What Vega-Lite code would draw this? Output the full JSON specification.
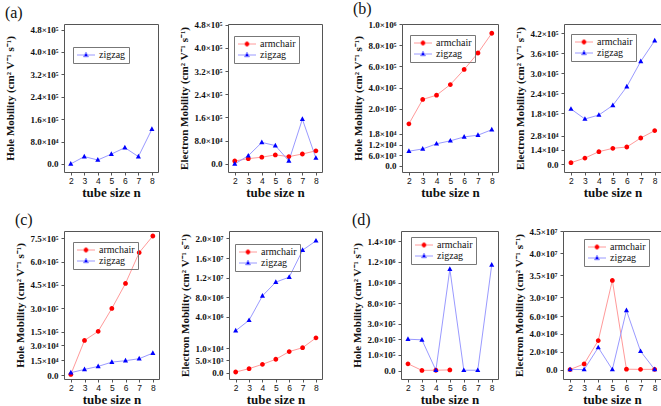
{
  "$schema": "https://vega.github.io/schema/vega-lite/v6.json",
  "padding": {"left": 4, "top": 0, "right": 5, "bottom": 0},
  "background": "white",
  "datasets": {
    "a_hole": [
      {"n": 2, "type": "zigzag", "mu": 0}, {"n": 3, "type": "zigzag", "mu": 26000}, {"n": 4, "type": "zigzag", "mu": 14000},
      {"n": 5, "type": "zigzag", "mu": 35000}, {"n": 6, "type": "zigzag", "mu": 58000}, {"n": 7, "type": "zigzag", "mu": 26000},
      {"n": 8, "type": "zigzag", "mu": 124000}
    ],
    "a_elec": [
      {"n": 2, "type": "armchair", "mu": 10000}, {"n": 3, "type": "armchair", "mu": 18000}, {"n": 4, "type": "armchair", "mu": 23000},
      {"n": 5, "type": "armchair", "mu": 31000}, {"n": 6, "type": "armchair", "mu": 25000}, {"n": 7, "type": "armchair", "mu": 34000},
      {"n": 8, "type": "armchair", "mu": 45000},
      {"n": 2, "type": "zigzag", "mu": 0}, {"n": 3, "type": "zigzag", "mu": 28000}, {"n": 4, "type": "zigzag", "mu": 74000},
      {"n": 5, "type": "zigzag", "mu": 63000}, {"n": 6, "type": "zigzag", "mu": 10000}, {"n": 7, "type": "zigzag", "mu": 154000},
      {"n": 8, "type": "zigzag", "mu": 20000}
    ],
    "b_hole": [
      {"n": 2, "type": "armchair", "mu": 60000}, {"n": 3, "type": "armchair", "mu": 290000}, {"n": 4, "type": "armchair", "mu": 330000},
      {"n": 5, "type": "armchair", "mu": 430000}, {"n": 6, "type": "armchair", "mu": 572000}, {"n": 7, "type": "armchair", "mu": 727000},
      {"n": 8, "type": "armchair", "mu": 913000},
      {"n": 2, "type": "zigzag", "mu": 8200}, {"n": 3, "type": "zigzag", "mu": 9500}, {"n": 4, "type": "zigzag", "mu": 12400},
      {"n": 5, "type": "zigzag", "mu": 14100}, {"n": 6, "type": "zigzag", "mu": 16300}, {"n": 7, "type": "zigzag", "mu": 17300},
      {"n": 8, "type": "zigzag", "mu": 20400}
    ],
    "b_elec": [
      {"n": 2, "type": "armchair", "mu": 1300}, {"n": 3, "type": "armchair", "mu": 5900}, {"n": 4, "type": "armchair", "mu": 12200},
      {"n": 5, "type": "armchair", "mu": 15500}, {"n": 6, "type": "armchair", "mu": 16800}, {"n": 7, "type": "armchair", "mu": 25700},
      {"n": 8, "type": "armchair", "mu": 33000},
      {"n": 2, "type": "zigzag", "mu": 193000}, {"n": 3, "type": "zigzag", "mu": 163000}, {"n": 4, "type": "zigzag", "mu": 175000},
      {"n": 5, "type": "zigzag", "mu": 204000}, {"n": 6, "type": "zigzag", "mu": 260000}, {"n": 7, "type": "zigzag", "mu": 336000},
      {"n": 8, "type": "zigzag", "mu": 398000}
    ],
    "c_hole": [
      {"n": 2, "type": "armchair", "mu": 1000}, {"n": 3, "type": "armchair", "mu": 35000}, {"n": 4, "type": "armchair", "mu": 154000},
      {"n": 5, "type": "armchair", "mu": 300000}, {"n": 6, "type": "armchair", "mu": 460000}, {"n": 7, "type": "armchair", "mu": 657000},
      {"n": 8, "type": "armchair", "mu": 763000},
      {"n": 2, "type": "zigzag", "mu": 2700}, {"n": 3, "type": "zigzag", "mu": 6000}, {"n": 4, "type": "zigzag", "mu": 9000},
      {"n": 5, "type": "zigzag", "mu": 13300}, {"n": 6, "type": "zigzag", "mu": 14700}, {"n": 7, "type": "zigzag", "mu": 16700},
      {"n": 8, "type": "zigzag", "mu": 22300}
    ],
    "c_elec": [
      {"n": 2, "type": "armchair", "mu": 200}, {"n": 3, "type": "armchair", "mu": 1600}, {"n": 4, "type": "armchair", "mu": 3400},
      {"n": 5, "type": "armchair", "mu": 5500}, {"n": 6, "type": "armchair", "mu": 8700}, {"n": 7, "type": "armchair", "mu": 10300},
      {"n": 8, "type": "armchair", "mu": 14400},
      {"n": 2, "type": "zigzag", "mu": 1200000}, {"n": 3, "type": "zigzag", "mu": 3330000}, {"n": 4, "type": "zigzag", "mu": 8300000},
      {"n": 5, "type": "zigzag", "mu": 11100000}, {"n": 6, "type": "zigzag", "mu": 12100000}, {"n": 7, "type": "zigzag", "mu": 17600000},
      {"n": 8, "type": "zigzag", "mu": 19500000}
    ],
    "d_hole": [
      {"n": 2, "type": "armchair", "mu": 43000}, {"n": 3, "type": "armchair", "mu": 1000}, {"n": 4, "type": "armchair", "mu": 2000},
      {"n": 5, "type": "armchair", "mu": 4000},
      {"n": 2, "type": "zigzag", "mu": 200000}, {"n": 3, "type": "zigzag", "mu": 196000}, {"n": 4, "type": "zigzag", "mu": 2000},
      {"n": 5, "type": "zigzag", "mu": 1130000}, {"n": 6, "type": "zigzag", "mu": 2000}, {"n": 7, "type": "zigzag", "mu": 2000},
      {"n": 8, "type": "zigzag", "mu": 1170000}
    ],
    "d_elec": [
      {"n": 2, "type": "armchair", "mu": 10000}, {"n": 3, "type": "armchair", "mu": 640000}, {"n": 4, "type": "armchair", "mu": 3260000},
      {"n": 5, "type": "armchair", "mu": 33800000}, {"n": 6, "type": "armchair", "mu": 50000}, {"n": 7, "type": "armchair", "mu": 30000},
      {"n": 8, "type": "armchair", "mu": 30000},
      {"n": 2, "type": "zigzag", "mu": 10000}, {"n": 3, "type": "zigzag", "mu": 10000}, {"n": 4, "type": "zigzag", "mu": 2480000},
      {"n": 5, "type": "zigzag", "mu": 10000}, {"n": 6, "type": "zigzag", "mu": 6640000}, {"n": 7, "type": "zigzag", "mu": 2060000},
      {"n": 8, "type": "zigzag", "mu": 20000}
    ]
  },
  "vconcat": [
    {
      "hconcat": [
        {
          "width": 94, "height": 148,
          "title": {"text": "(a)"},
          "data": {"name": "a_hole"},
          "encoding": {
            "x": {"field": "n", "type": "quantitative", "scale": {"domain": [1.5, 8.45], "nice": false, "zero": false}, "axis": {"values": [2, 3, 4, 5, 6, 7, 8], "title": "tube size n"}},
            "y": {"field": "mu", "type": "quantitative", "scale": {"domain": [-29000, 500000], "nice": false, "zero": false},
              "axis": {"values": [0, 80000, 160000, 240000, 320000, 400000, 480000], "title": "Hole Mobility (cm² V⁻¹ s⁻¹)", "titlePadding": 14,
                "labelExpr": "datum.value == 0 ? '0.0' : format(datum.value / pow(10, floor(log(datum.value) / LN10 + 1e-9)), '.1f') + '×10' + ['⁰','¹','²','³','⁴','⁵','⁶','⁷','⁸','⁹'][floor(log(datum.value) / LN10 + 1e-9)]"}}
          },
          "layer": [
            {"mark": {"type": "line", "strokeWidth": 1}, "encoding": {"stroke": {"field": "type", "type": "nominal", "scale": {"domain": ["zigzag"], "range": ["#9a9aff"]}, "legend": {"title": null, "legendX": 9, "legendY": 23}}}},
            {"mark": {"type": "point", "filled": true, "opacity": 1, "size": 36},
              "encoding": {
                "color": {"field": "type", "type": "nominal", "scale": {"domain": ["zigzag"], "range": ["#0000ff"]}, "legend": {"title": null, "legendX": 9, "legendY": 23}},
                "shape": {"field": "type", "type": "nominal", "scale": {"domain": ["zigzag"], "range": ["M-3,0L-0.6,0M0.6,0L3,0M0,-0.95L0.85,0.6L-0.85,0.6Z"]}, "legend": {"title": null, "legendX": 9, "legendY": 23}}
              }}
          ]
        },
        {"width": 70, "height": 148, "data": {"values": []}, "mark": "point", "view": {"stroke": null}},
        {
          "width": 94, "height": 148,
          "data": {"name": "a_elec"},
          "encoding": {
            "x": {"field": "n", "type": "quantitative", "scale": {"domain": [1.5, 8.45], "nice": false, "zero": false}, "axis": {"values": [2, 3, 4, 5, 6, 7, 8], "title": "tube size n"}},
            "y": {"field": "mu", "type": "quantitative", "scale": {"domain": [-28000, 482000], "nice": false, "zero": false},
              "axis": {"values": [0, 80000, 160000, 240000, 320000, 400000, 480000], "title": "Electron Mobility (cm² V⁻¹ s⁻¹)",
                "labelExpr": "datum.value == 0 ? '0.0' : format(datum.value / pow(10, floor(log(datum.value) / LN10 + 1e-9)), '.1f') + '×10' + ['⁰','¹','²','³','⁴','⁵','⁶','⁷','⁸','⁹'][floor(log(datum.value) / LN10 + 1e-9)]"}}
          },
          "layer": [
            {"mark": {"type": "line", "strokeWidth": 1}, "encoding": {"stroke": {"field": "type", "type": "nominal", "scale": {"domain": ["armchair", "zigzag"], "range": ["#ff9a9a", "#9a9aff"]}, "legend": {"title": null, "legendX": 6, "legendY": 12}}}},
            {"mark": {"type": "point", "filled": true, "opacity": 1, "size": 36},
              "encoding": {
                "color": {"field": "type", "type": "nominal", "scale": {"domain": ["armchair", "zigzag"], "range": ["#ff0000", "#0000ff"]}, "legend": {"title": null, "legendX": 6, "legendY": 12}},
                "shape": {"field": "type", "type": "nominal", "scale": {"domain": ["armchair", "zigzag"], "range": ["M-3,0L-0.8,0M0.8,0L3,0M-0.8,0A0.8,0.8,0,1,0,0.8,0A0.8,0.8,0,1,0,-0.8,0Z", "M-3,0L-0.6,0M0.6,0L3,0M0,-0.95L0.85,0.6L-0.85,0.6Z"]}, "legend": {"title": null, "legendX": 6, "legendY": 12}}
              }}
          ]
        },
        {"width": 80, "height": 148, "data": {"values": []}, "mark": "point", "view": {"stroke": null}},
        {
          "width": 96, "height": 148,
          "title": {"text": "(b)"},
          "data": {"name": "b_hole"},
          "encoding": {
            "x": {"field": "n", "type": "quantitative", "scale": {"domain": [1.5, 8.45], "nice": false, "zero": false}, "axis": {"values": [2, 3, 4, 5, 6, 7, 8], "title": "tube size n"}},
            "y": {"field": "mu", "type": "quantitative", "scale": {"domain": [-3600, 20800, 55000, 1000000], "range": [148, 105, 100.4, 0], "nice": false, "zero": false},
              "axis": {"values": [0, 6000, 12000, 18000, 200000, 400000, 600000, 800000, 1000000], "title": "Hole Mobility (cm² V⁻¹ s⁻¹)",
                "labelExpr": "datum.value == 0 ? '0.0' : format(datum.value / pow(10, floor(log(datum.value) / LN10 + 1e-9)), '.1f') + '×10' + ['⁰','¹','²','³','⁴','⁵','⁶','⁷','⁸','⁹'][floor(log(datum.value) / LN10 + 1e-9)]"}}
          },
          "layer": [
            {"mark": {"type": "line", "strokeWidth": 1}, "encoding": {"stroke": {"field": "type", "type": "nominal", "scale": {"domain": ["armchair", "zigzag"], "range": ["#ff9a9a", "#9a9aff"]}, "legend": {"title": null, "legendX": 8, "legendY": 11}}}},
            {"mark": {"type": "point", "filled": true, "opacity": 1, "size": 36},
              "encoding": {
                "color": {"field": "type", "type": "nominal", "scale": {"domain": ["armchair", "zigzag"], "range": ["#ff0000", "#0000ff"]}, "legend": {"title": null, "legendX": 8, "legendY": 11}},
                "shape": {"field": "type", "type": "nominal", "scale": {"domain": ["armchair", "zigzag"], "range": ["M-3,0L-0.8,0M0.8,0L3,0M-0.8,0A0.8,0.8,0,1,0,0.8,0A0.8,0.8,0,1,0,-0.8,0Z", "M-3,0L-0.6,0M0.6,0L3,0M0,-0.95L0.85,0.6L-0.85,0.6Z"]}, "legend": {"title": null, "legendX": 8, "legendY": 11}}
              }},
            {"data": {"values": [{}]}, "mark": {"type": "point", "shape": "M-1,-0.15L1,-0.85L1,0.15L-1,0.85Z", "filled": true, "color": "white", "opacity": 1, "size": 81}, "encoding": {"x": {"datum": 1.5}, "y": {"datum": 38000}}},
            {"data": {"values": [{}]}, "mark": {"type": "point", "shape": "M-1,-0.15L1,-0.85L1,0.15L-1,0.85Z", "filled": true, "color": "white", "opacity": 1, "size": 81}, "encoding": {"x": {"datum": 8.45}, "y": {"datum": 38000}}},
            {"data": {"values": [{}]}, "mark": {"type": "point", "shape": "M-1,-0.15L1,-0.85M-1,0.85L1,0.15", "filled": false, "color": "#333", "strokeWidth": 1, "opacity": 1, "size": 81}, "encoding": {"x": {"datum": 1.5}, "y": {"datum": 38000}}},
            {"data": {"values": [{}]}, "mark": {"type": "point", "shape": "M-1,-0.15L1,-0.85M-1,0.85L1,0.15", "filled": false, "color": "#333", "strokeWidth": 1, "opacity": 1, "size": 81}, "encoding": {"x": {"datum": 8.45}, "y": {"datum": 38000}}}
          ]
        },
        {"width": 66, "height": 148, "data": {"values": []}, "mark": "point", "view": {"stroke": null}},
        {
          "width": 97, "height": 148,
          "data": {"name": "b_elec"},
          "encoding": {
            "x": {"field": "n", "type": "quantitative", "scale": {"domain": [1.5, 8.45], "nice": false, "zero": false}, "axis": {"values": [2, 3, 4, 5, 6, 7, 8], "title": "tube size n"}},
            "y": {"field": "mu", "type": "quantitative", "scale": {"domain": [-7900, 35100, 145000, 448000], "range": [148, 104.5, 101, 0], "nice": false, "zero": false},
              "axis": {"values": [0, 14000, 28000, 180000, 240000, 300000, 360000, 420000], "title": "Electron Mobility (cm² V⁻¹ s⁻¹)",
                "labelExpr": "datum.value == 0 ? '0.0' : format(datum.value / pow(10, floor(log(datum.value) / LN10 + 1e-9)), '.1f') + '×10' + ['⁰','¹','²','³','⁴','⁵','⁶','⁷','⁸','⁹'][floor(log(datum.value) / LN10 + 1e-9)]"}}
          },
          "layer": [
            {"mark": {"type": "line", "strokeWidth": 1}, "encoding": {"stroke": {"field": "type", "type": "nominal", "scale": {"domain": ["armchair", "zigzag"], "range": ["#ff9a9a", "#9a9aff"]}, "legend": {"title": null, "legendX": 7, "legendY": 10}}}},
            {"mark": {"type": "point", "filled": true, "opacity": 1, "size": 36},
              "encoding": {
                "color": {"field": "type", "type": "nominal", "scale": {"domain": ["armchair", "zigzag"], "range": ["#ff0000", "#0000ff"]}, "legend": {"title": null, "legendX": 7, "legendY": 10}},
                "shape": {"field": "type", "type": "nominal", "scale": {"domain": ["armchair", "zigzag"], "range": ["M-3,0L-0.8,0M0.8,0L3,0M-0.8,0A0.8,0.8,0,1,0,0.8,0A0.8,0.8,0,1,0,-0.8,0Z", "M-3,0L-0.6,0M0.6,0L3,0M0,-0.95L0.85,0.6L-0.85,0.6Z"]}, "legend": {"title": null, "legendX": 7, "legendY": 10}}
              }},
            {"data": {"values": [{}]}, "mark": {"type": "point", "shape": "M-1,-0.15L1,-0.85L1,0.15L-1,0.85Z", "filled": true, "color": "white", "opacity": 1, "size": 81}, "encoding": {"x": {"datum": 1.5}, "y": {"datum": 90000}}},
            {"data": {"values": [{}]}, "mark": {"type": "point", "shape": "M-1,-0.15L1,-0.85L1,0.15L-1,0.85Z", "filled": true, "color": "white", "opacity": 1, "size": 81}, "encoding": {"x": {"datum": 8.45}, "y": {"datum": 90000}}},
            {"data": {"values": [{}]}, "mark": {"type": "point", "shape": "M-1,-0.15L1,-0.85M-1,0.85L1,0.15", "filled": false, "color": "#333", "strokeWidth": 1, "opacity": 1, "size": 81}, "encoding": {"x": {"datum": 1.5}, "y": {"datum": 90000}}},
            {"data": {"values": [{}]}, "mark": {"type": "point", "shape": "M-1,-0.15L1,-0.85M-1,0.85L1,0.15", "filled": false, "color": "#333", "strokeWidth": 1, "opacity": 1, "size": 81}, "encoding": {"x": {"datum": 8.45}, "y": {"datum": 90000}}}
          ]
        }
      ],
      "spacing": 0, "bounds": "flush",
      "resolve": {"scale": {"x": "independent", "y": "independent", "color": "independent", "shape": "independent", "stroke": "independent"}, "legend": {"color": "independent", "shape": "independent", "stroke": "independent"}}
    },
    {
      "hconcat": [
        {
          "width": 95, "height": 148,
          "title": {"text": "(c)"},
          "data": {"name": "c_hole"},
          "encoding": {
            "x": {"field": "n", "type": "quantitative", "scale": {"domain": [1.5, 8.45], "nice": false, "zero": false}, "axis": {"values": [2, 3, 4, 5, 6, 7, 8], "title": "tube size n"}},
            "y": {"field": "mu", "type": "quantitative", "scale": {"domain": [-3600, 39400, 140000, 795000], "range": [148, 105, 102.5, 0], "nice": false, "zero": false},
              "axis": {"values": [0, 15000, 30000, 150000, 300000, 450000, 600000, 750000], "title": "Hole Mobility (cm² V⁻¹ s⁻¹)",
                "labelExpr": "datum.value == 0 ? '0.0' : format(datum.value / pow(10, floor(log(datum.value) / LN10 + 1e-9)), '.1f') + '×10' + ['⁰','¹','²','³','⁴','⁵','⁶','⁷','⁸','⁹'][floor(log(datum.value) / LN10 + 1e-9)]"}}
          },
          "layer": [
            {"mark": {"type": "line", "strokeWidth": 1}, "encoding": {"stroke": {"field": "type", "type": "nominal", "scale": {"domain": ["armchair", "zigzag"], "range": ["#ff9a9a", "#9a9aff"]}, "legend": {"title": null, "legendX": 9, "legendY": 11}}}},
            {"mark": {"type": "point", "filled": true, "opacity": 1, "size": 36},
              "encoding": {
                "color": {"field": "type", "type": "nominal", "scale": {"domain": ["armchair", "zigzag"], "range": ["#ff0000", "#0000ff"]}, "legend": {"title": null, "legendX": 9, "legendY": 11}},
                "shape": {"field": "type", "type": "nominal", "scale": {"domain": ["armchair", "zigzag"], "range": ["M-3,0L-0.8,0M0.8,0L3,0M-0.8,0A0.8,0.8,0,1,0,0.8,0A0.8,0.8,0,1,0,-0.8,0Z", "M-3,0L-0.6,0M0.6,0L3,0M0,-0.95L0.85,0.6L-0.85,0.6Z"]}, "legend": {"title": null, "legendX": 9, "legendY": 11}}
              }},
            {"data": {"values": [{}]}, "mark": {"type": "point", "shape": "M-1,-0.15L1,-0.85L1,0.15L-1,0.85Z", "filled": true, "color": "white", "opacity": 1, "size": 81}, "encoding": {"x": {"datum": 1.5}, "y": {"datum": 90000}}},
            {"data": {"values": [{}]}, "mark": {"type": "point", "shape": "M-1,-0.15L1,-0.85L1,0.15L-1,0.85Z", "filled": true, "color": "white", "opacity": 1, "size": 81}, "encoding": {"x": {"datum": 8.45}, "y": {"datum": 90000}}},
            {"data": {"values": [{}]}, "mark": {"type": "point", "shape": "M-1,-0.15L1,-0.85M-1,0.85L1,0.15", "filled": false, "color": "#333", "strokeWidth": 1, "opacity": 1, "size": 81}, "encoding": {"x": {"datum": 1.5}, "y": {"datum": 90000}}},
            {"data": {"values": [{}]}, "mark": {"type": "point", "shape": "M-1,-0.15L1,-0.85M-1,0.85L1,0.15", "filled": false, "color": "#333", "strokeWidth": 1, "opacity": 1, "size": 81}, "encoding": {"x": {"datum": 8.45}, "y": {"datum": 90000}}}
          ]
        },
        {"width": 70, "height": 148, "data": {"values": []}, "mark": "point", "view": {"stroke": null}},
        {
          "width": 93, "height": 148,
          "data": {"name": "c_elec"},
          "encoding": {
            "x": {"field": "n", "type": "quantitative", "scale": {"domain": [1.5, 8.45], "nice": false, "zero": false}, "axis": {"values": [2, 3, 4, 5, 6, 7, 8], "title": "tube size n"}},
            "y": {"field": "mu", "type": "quantitative", "scale": {"domain": [-2700, 16000, 1100000, 21500000], "range": [148, 103, 100.2, 0], "nice": false, "zero": false},
              "axis": {"values": [0, 5000, 10000, 4000000, 8000000, 12000000, 16000000, 20000000], "title": "Electron Mobility (cm² V⁻¹ s⁻¹)",
                "labelExpr": "datum.value == 0 ? '0.0' : format(datum.value / pow(10, floor(log(datum.value) / LN10 + 1e-9)), '.1f') + '×10' + ['⁰','¹','²','³','⁴','⁵','⁶','⁷','⁸','⁹'][floor(log(datum.value) / LN10 + 1e-9)]"}}
          },
          "layer": [
            {"mark": {"type": "line", "strokeWidth": 1}, "encoding": {"stroke": {"field": "type", "type": "nominal", "scale": {"domain": ["armchair", "zigzag"], "range": ["#ff9a9a", "#9a9aff"]}, "legend": {"title": null, "legendX": 6, "legendY": 13}}}},
            {"mark": {"type": "point", "filled": true, "opacity": 1, "size": 36},
              "encoding": {
                "color": {"field": "type", "type": "nominal", "scale": {"domain": ["armchair", "zigzag"], "range": ["#ff0000", "#0000ff"]}, "legend": {"title": null, "legendX": 6, "legendY": 13}},
                "shape": {"field": "type", "type": "nominal", "scale": {"domain": ["armchair", "zigzag"], "range": ["M-3,0L-0.8,0M0.8,0L3,0M-0.8,0A0.8,0.8,0,1,0,0.8,0A0.8,0.8,0,1,0,-0.8,0Z", "M-3,0L-0.6,0M0.6,0L3,0M0,-0.95L0.85,0.6L-0.85,0.6Z"]}, "legend": {"title": null, "legendX": 6, "legendY": 13}}
              }},
            {"data": {"values": [{}]}, "mark": {"type": "point", "shape": "M-1,-0.15L1,-0.85L1,0.15L-1,0.85Z", "filled": true, "color": "white", "opacity": 1, "size": 81}, "encoding": {"x": {"datum": 1.5}, "y": {"datum": 558000}}},
            {"data": {"values": [{}]}, "mark": {"type": "point", "shape": "M-1,-0.15L1,-0.85L1,0.15L-1,0.85Z", "filled": true, "color": "white", "opacity": 1, "size": 81}, "encoding": {"x": {"datum": 8.45}, "y": {"datum": 558000}}},
            {"data": {"values": [{}]}, "mark": {"type": "point", "shape": "M-1,-0.15L1,-0.85M-1,0.85L1,0.15", "filled": false, "color": "#333", "strokeWidth": 1, "opacity": 1, "size": 81}, "encoding": {"x": {"datum": 1.5}, "y": {"datum": 558000}}},
            {"data": {"values": [{}]}, "mark": {"type": "point", "shape": "M-1,-0.15L1,-0.85M-1,0.85L1,0.15", "filled": false, "color": "#333", "strokeWidth": 1, "opacity": 1, "size": 81}, "encoding": {"x": {"datum": 8.45}, "y": {"datum": 558000}}}
          ]
        },
        {"width": 79, "height": 148, "data": {"values": []}, "mark": "point", "view": {"stroke": null}},
        {
          "width": 97, "height": 148,
          "title": {"text": "(d)"},
          "data": {"name": "d_hole"},
          "encoding": {
            "x": {"field": "n", "type": "quantitative", "scale": {"domain": [1.5, 8.45], "nice": false, "zero": false}, "axis": {"values": [2, 3, 4, 5, 6, 7, 8], "title": "tube size n"}},
            "y": {"field": "mu", "type": "quantitative", "scale": {"domain": [-54000, 398000, 782000, 1497000], "range": [148, 77.2, 74.2, 0], "nice": false, "zero": false},
              "axis": {"values": [0, 100000, 200000, 300000, 800000, 1000000, 1200000, 1400000], "title": "Hole Mobility (cm² V⁻¹ s⁻¹)",
                "labelExpr": "datum.value == 0 ? '0.0' : format(datum.value / pow(10, floor(log(datum.value) / LN10 + 1e-9)), '.1f') + '×10' + ['⁰','¹','²','³','⁴','⁵','⁶','⁷','⁸','⁹'][floor(log(datum.value) / LN10 + 1e-9)]"}}
          },
          "layer": [
            {"mark": {"type": "line", "strokeWidth": 1}, "encoding": {"stroke": {"field": "type", "type": "nominal", "scale": {"domain": ["armchair", "zigzag"], "range": ["#ff9a9a", "#9a9aff"]}, "legend": {"title": null, "legendX": 10, "legendY": 6}}}},
            {"mark": {"type": "point", "filled": true, "opacity": 1, "size": 36},
              "encoding": {
                "color": {"field": "type", "type": "nominal", "scale": {"domain": ["armchair", "zigzag"], "range": ["#ff0000", "#0000ff"]}, "legend": {"title": null, "legendX": 10, "legendY": 6}},
                "shape": {"field": "type", "type": "nominal", "scale": {"domain": ["armchair", "zigzag"], "range": ["M-3,0L-0.8,0M0.8,0L3,0M-0.8,0A0.8,0.8,0,1,0,0.8,0A0.8,0.8,0,1,0,-0.8,0Z", "M-3,0L-0.6,0M0.6,0L3,0M0,-0.95L0.85,0.6L-0.85,0.6Z"]}, "legend": {"title": null, "legendX": 10, "legendY": 6}}
              }},
            {"data": {"values": [{}]}, "mark": {"type": "point", "shape": "M-1,-0.15L1,-0.85L1,0.15L-1,0.85Z", "filled": true, "color": "white", "opacity": 1, "size": 81}, "encoding": {"x": {"datum": 1.5}, "y": {"datum": 590000}}},
            {"data": {"values": [{}]}, "mark": {"type": "point", "shape": "M-1,-0.15L1,-0.85L1,0.15L-1,0.85Z", "filled": true, "color": "white", "opacity": 1, "size": 81}, "encoding": {"x": {"datum": 8.45}, "y": {"datum": 590000}}},
            {"data": {"values": [{}]}, "mark": {"type": "point", "shape": "M-1,-0.15L1,-0.85M-1,0.85L1,0.15", "filled": false, "color": "#333", "strokeWidth": 1, "opacity": 1, "size": 81}, "encoding": {"x": {"datum": 1.5}, "y": {"datum": 590000}}},
            {"data": {"values": [{}]}, "mark": {"type": "point", "shape": "M-1,-0.15L1,-0.85M-1,0.85L1,0.15", "filled": false, "color": "#333", "strokeWidth": 1, "opacity": 1, "size": 81}, "encoding": {"x": {"datum": 8.45}, "y": {"datum": 590000}}}
          ]
        },
        {"width": 65, "height": 148, "data": {"values": []}, "mark": "point", "view": {"stroke": null}},
        {
          "width": 98, "height": 148,
          "data": {"name": "d_elec"},
          "encoding": {
            "x": {"field": "n", "type": "quantitative", "scale": {"domain": [1.5, 8.45], "nice": false, "zero": false}, "axis": {"values": [2, 3, 4, 5, 6, 7, 8], "title": "tube size n"}},
            "y": {"field": "mu", "type": "quantitative", "scale": {"domain": [-1050000, 7090000, 28600000, 45000000], "range": [148, 75.4, 72.4, 0], "nice": false, "zero": false},
              "axis": {"values": [0, 2000000, 4000000, 6000000, 30000000, 35000000, 40000000, 45000000], "title": "Electron Mobility (cm² V⁻¹ s⁻¹)",
                "labelExpr": "datum.value == 0 ? '0.0' : format(datum.value / pow(10, floor(log(datum.value) / LN10 + 1e-9)), '.1f') + '×10' + ['⁰','¹','²','³','⁴','⁵','⁶','⁷','⁸','⁹'][floor(log(datum.value) / LN10 + 1e-9)]"}}
          },
          "layer": [
            {"mark": {"type": "line", "strokeWidth": 1}, "encoding": {"stroke": {"field": "type", "type": "nominal", "scale": {"domain": ["armchair", "zigzag"], "range": ["#ff9a9a", "#9a9aff"]}, "legend": {"title": null, "legendX": 21, "legendY": 8}}}},
            {"mark": {"type": "point", "filled": true, "opacity": 1, "size": 36},
              "encoding": {
                "color": {"field": "type", "type": "nominal", "scale": {"domain": ["armchair", "zigzag"], "range": ["#ff0000", "#0000ff"]}, "legend": {"title": null, "legendX": 21, "legendY": 8}},
                "shape": {"field": "type", "type": "nominal", "scale": {"domain": ["armchair", "zigzag"], "range": ["M-3,0L-0.8,0M0.8,0L3,0M-0.8,0A0.8,0.8,0,1,0,0.8,0A0.8,0.8,0,1,0,-0.8,0Z", "M-3,0L-0.6,0M0.6,0L3,0M0,-0.95L0.85,0.6L-0.85,0.6Z"]}, "legend": {"title": null, "legendX": 21, "legendY": 8}}
              }},
            {"data": {"values": [{}]}, "mark": {"type": "point", "shape": "M-1,-0.15L1,-0.85L1,0.15L-1,0.85Z", "filled": true, "color": "white", "opacity": 1, "size": 81}, "encoding": {"x": {"datum": 1.5}, "y": {"datum": 17800000}}},
            {"data": {"values": [{}]}, "mark": {"type": "point", "shape": "M-1,-0.15L1,-0.85L1,0.15L-1,0.85Z", "filled": true, "color": "white", "opacity": 1, "size": 81}, "encoding": {"x": {"datum": 8.45}, "y": {"datum": 17800000}}},
            {"data": {"values": [{}]}, "mark": {"type": "point", "shape": "M-1,-0.15L1,-0.85M-1,0.85L1,0.15", "filled": false, "color": "#333", "strokeWidth": 1, "opacity": 1, "size": 81}, "encoding": {"x": {"datum": 1.5}, "y": {"datum": 17800000}}},
            {"data": {"values": [{}]}, "mark": {"type": "point", "shape": "M-1,-0.15L1,-0.85M-1,0.85L1,0.15", "filled": false, "color": "#333", "strokeWidth": 1, "opacity": 1, "size": 81}, "encoding": {"x": {"datum": 8.45}, "y": {"datum": 17800000}}}
          ]
        }
      ],
      "spacing": 0, "bounds": "flush",
      "resolve": {"scale": {"x": "independent", "y": "independent", "color": "independent", "shape": "independent", "stroke": "independent"}, "legend": {"color": "independent", "shape": "independent", "stroke": "independent"}}
    }
  ],
  "spacing": 11,
  "resolve": {"scale": {"x": "independent", "y": "independent", "color": "independent", "shape": "independent", "stroke": "independent"}, "legend": {"color": "independent", "shape": "independent", "stroke": "independent"}},
  "config": {
    "view": {"stroke": "#555", "strokeWidth": 1},
    "axis": {"domain": false, "grid": false, "tickColor": "#555", "tickSize": 3, "labelPadding": 2, "labelColor": "#111", "titleColor": "#111", "titleFont": "Liberation Serif", "titleFontWeight": "bold"},
    "axisY": {"labelFont": "Liberation Serif", "labelFontWeight": "bold", "labelFontSize": 9, "titleFontSize": 11, "titlePadding": 4, "labelPadding": 3},
    "axisX": {"labelFont": "Liberation Sans", "labelFontSize": 8.5, "labelAngle": 0, "labelPadding": 1, "titleFontSize": 13, "titleY": 24, "titleBaseline": "alphabetic"},
    "legend": {"orient": "none", "strokeColor": "#777", "padding": 3, "rowPadding": 1, "labelFont": "Liberation Serif", "labelFontSize": 10, "labelColor": "#111", "symbolSize": 36, "symbolOffset": 5, "labelOffset": 8, "symbolStrokeWidth": 1},
    "title": {"font": "Liberation Serif", "fontSize": 16, "fontWeight": "normal", "anchor": "start", "frame": "bounds", "offset": 3, "color": "#111"}
  }
}
